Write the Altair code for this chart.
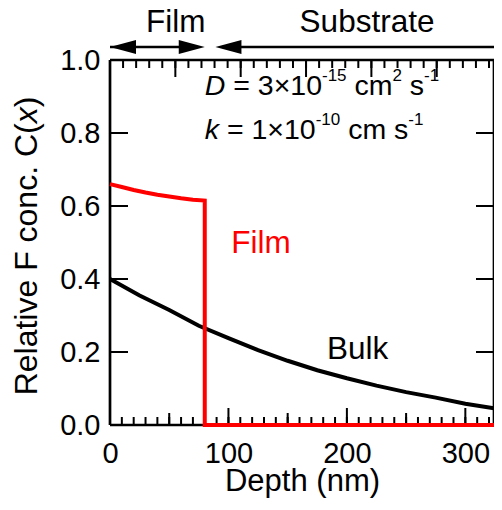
import altair as alt
import pandas as pd

# ---------------- data ----------------
depth_max = 324.2
bulk_depth = [0, 25, 50, 75, 100, 125, 150, 175, 200, 225, 250, 275, 300, 324.2]
bulk_conc = [0.40, 0.355, 0.315, 0.272, 0.238, 0.205, 0.176, 0.150, 0.128, 0.108, 0.090, 0.075, 0.058, 0.046]
film_depth = [0, 10, 20, 30, 40, 50, 60, 70, 80, 80, 324.2]
film_conc = [0.660, 0.652, 0.644, 0.637, 0.631, 0.626, 0.621, 0.617, 0.615, 0.0, 0.0]

x_label_values = [0, 100, 200, 300]
y_label_values = [0.0, 0.2, 0.4, 0.6, 0.8, 1.0]
x_minor_ticks = list(range(0, 325, 10))
x_mid_ticks = [50, 150, 250]
x_major_ticks = [100, 200, 300]
y_major_ticks = [0.2, 0.4, 0.6, 0.8]
top_unit_nm = 55.17
top_minor_units = [i / 5 for i in range(0, 30)]
top_major_units = [0, 1, 2, 3, 4, 5]

film_region = [0, 80]
substrate_region = [89, 324.2]

# ---------------- layout ----------------
W, H = 384, 365
FONT = "Liberation Sans"
LW = 2.7

AW = {' ': .278, 'R': .722, 'e': .556, 'l': .222, 'a': .556, 't': .278, 'i': .222,
      'v': .5, 'F': .611, 'c': .5, 'o': .556, 'n': .556, '.': .278, 'C': .722,
      '(': .333, ')': .333, 'x': .5, 'D': .722, 'k': .5, '=': .584, '×': .584,
      '-': .333, 'm': .833, 's': .5}


def tw(s, size):
    return sum(AW.get(ch, 0.556) for ch in s) * size


xs = alt.Scale(domain=[0, depth_max], nice=False, zero=False)
ys = alt.Scale(domain=[0, 1], nice=False, zero=False)

x_axis = alt.Axis(values=x_label_values, format="d", ticks=False, domain=False, grid=False,
                  labelFontSize=29, labelPadding=14, labelFlush=False, labelOverlap=False,
                  labelColor="black", title="Depth (nm)", titleFontSize=31,
                  titleFontWeight="normal", titleColor="black", titleY=65,
                  titleBaseline="alphabetic")
y_axis = alt.Axis(values=y_label_values, format=".1f", ticks=False, domain=False, grid=False,
                  labelFontSize=29, labelPadding=10, labelFlush=False, labelOverlap=False,
                  labelColor="black", title=None)

X = alt.X("x:Q", scale=xs, axis=x_axis)
Y = alt.Y("y:Q", scale=ys, axis=y_axis)

layers = []

bulk_df = pd.DataFrame({"x": bulk_depth, "y": bulk_conc, "i": range(len(bulk_depth))})
film_df = pd.DataFrame({"x": film_depth, "y": film_conc, "i": range(len(film_depth))})

one = pd.DataFrame({"a": [0]})
layers += [
    alt.Chart(one).mark_rule(color="black", strokeWidth=LW).encode(x=alt.value(0), y=alt.value(0), y2=alt.value(H)),
    alt.Chart(one).mark_rule(color="black", strokeWidth=LW).encode(x=alt.value(W), y=alt.value(0), y2=alt.value(H)),
    alt.Chart(one).mark_rule(color="black", strokeWidth=LW).encode(y=alt.value(0), x=alt.value(0), x2=alt.value(W)),
    alt.Chart(one).mark_rule(color="black", strokeWidth=LW).encode(y=alt.value(H), x=alt.value(0), x2=alt.value(W)),
]


def xticks(vals, length, top=False):
    df = pd.DataFrame({"x": vals})
    if top:
        return alt.Chart(df).mark_rule(color="black", strokeWidth=2).encode(
            x=X, y=alt.value(0), y2=alt.value(length))
    return alt.Chart(df).mark_rule(color="black", strokeWidth=2).encode(
        x=X, y=alt.value(H), y2=alt.value(H - length))


layers.append(xticks(x_minor_ticks, 8))
layers.append(xticks(x_mid_ticks, 12))
layers.append(xticks(x_major_ticks, 17))
layers.append(xticks([u * top_unit_nm for u in top_minor_units], 8, top=True))
layers.append(xticks([u * top_unit_nm for u in top_major_units], 17, top=True))

ytdf = pd.DataFrame({"y": y_major_ticks})
layers.append(alt.Chart(ytdf).mark_rule(color="black", strokeWidth=2).encode(
    y=Y, x=alt.value(0), x2=alt.value(18)))
layers.append(alt.Chart(ytdf).mark_rule(color="black", strokeWidth=2).encode(
    y=Y, x=alt.value(W), x2=alt.value(W - 18)))

layers.append(alt.Chart(bulk_df).mark_line(color="black", strokeWidth=4).encode(
    x=X, y=Y, order="i:Q"))
layers.append(alt.Chart(film_df).mark_line(color="#ff0000", strokeWidth=4, strokeJoin="miter").encode(
    x=X, y=Y, order="i:Q"))

arrow_y = -13
shafts = pd.DataFrame({"x": [film_region[0], substrate_region[0] + 10],
                       "x2": [film_region[1] - 10, substrate_region[1]]})
layers.append(alt.Chart(shafts).mark_rule(color="black", strokeWidth=2.5).encode(
    x=X, x2="x2:Q", y=alt.value(arrow_y)))
right_head = "M 0 0 L -2 -0.54 L -2 0.54 Z"
left_head = "M 0 0 L 2 -0.54 L 2 0.54 Z"
layers.append(alt.Chart(pd.DataFrame({"x": [film_region[1]]})).mark_point(
    shape=right_head, filled=True, size=676, color="black", opacity=1, strokeWidth=0).encode(
    x=X, y=alt.value(arrow_y)))
layers.append(alt.Chart(pd.DataFrame({"x": [film_region[0], substrate_region[0]]})).mark_point(
    shape=left_head, filled=True, size=676, color="black", opacity=1, strokeWidth=0).encode(
    x=X, y=alt.value(arrow_y)))

region_labels = pd.DataFrame({"x": [55.5, 217.0], "t": ["Film", "Substrate"]})
layers.append(alt.Chart(region_labels).mark_text(fontSize=31.5, font=FONT, align="center",
                                                  baseline="alphabetic", color="black").encode(
    x=X, y=alt.value(-28), text="t:N"))

layers.append(alt.Chart(pd.DataFrame({"x": [127.5], "y": [0.47], "t": ["Film"]})).mark_text(
    fontSize=31.5, font=FONT, align="center", baseline="alphabetic", color="#ff0000").encode(
    x=X, y=Y, text="t:N"))
layers.append(alt.Chart(pd.DataFrame({"x": [209.0], "y": [0.18], "t": ["Bulk"]})).mark_text(
    fontSize=31.5, font=FONT, align="center", baseline="alphabetic", color="black").encode(
    x=X, y=Y, text="t:N"))

MAIN, SUP, RAISE = 28.5, 17, -14
ann_x = 80.0
lines = [
    (0.903, [("D", MAIN, "italic", 0), (" = 3×10", MAIN, "normal", 0), ("-15", SUP, "normal", RAISE),
             (" cm", MAIN, "normal", 0), ("2", SUP, "normal", RAISE), (" s", MAIN, "normal", 0),
             ("-1", SUP, "normal", RAISE)]),
    (0.783, [("k", MAIN, "italic", 0), (" = 1×10", MAIN, "normal", 0), ("-10", SUP, "normal", RAISE),
             (" cm s", MAIN, "normal", 0), ("-1", SUP, "normal", RAISE)]),
]
for ly, pieces in lines:
    cur = 0.0
    for txt, size, style, dy in pieces:
        stripped = txt.lstrip(" ")
        lead = tw(txt[:len(txt) - len(stripped)], size)
        df = pd.DataFrame({"x": [ann_x], "y": [ly], "t": [stripped]})
        layers.append(alt.Chart(df).mark_text(
            fontSize=size, font=FONT, fontStyle=style, align="left", baseline="alphabetic",
            color="black", dx=cur + lead, dy=dy).encode(x=X, y=Y, text="t:N"))
        cur += tw(txt, size)

TS = 32
title_pieces = [("Relative F conc. C(", "normal"), ("x", "italic"), (")", "normal")]
total = sum(tw(t, TS) for t, _ in title_pieces)
cur = -total / 2
for txt, style in title_pieces:
    layers.append(alt.Chart(one).mark_text(
        fontSize=TS, font=FONT, fontStyle=style, align="left", baseline="middle", angle=270,
        color="black", dx=cur).encode(x=alt.value(-83), y=alt.value(186), text=alt.value(txt)))
    cur += tw(txt, TS)

chart = alt.layer(*layers).properties(
    width=W, height=H,
    autosize=alt.AutoSizeParams(type="none"),
    padding={"left": 102, "top": 52, "right": 0, "bottom": 73},
).configure_view(stroke=None).configure(font=FONT).configure_axis(labelFont=FONT, titleFont=FONT)

chart.save("out.html", embed_options={"renderer": "svg", "actions": False})
